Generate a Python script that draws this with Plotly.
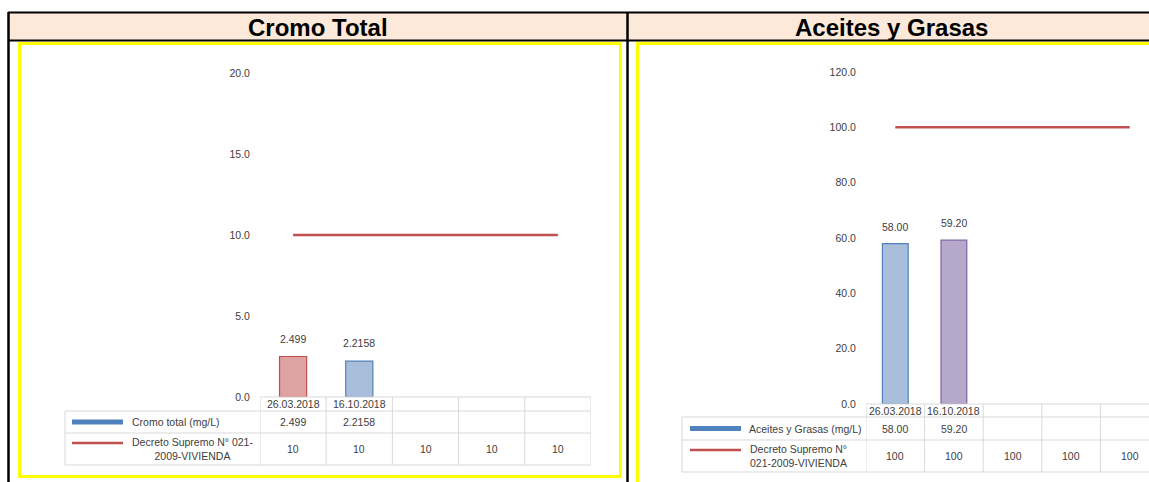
import plotly.graph_objects as go

# ---------------- data ----------------
dates = ["26.03.2018", "16.10.2018", "", "", ""]

cromo_values = [2.499, 2.2158]
cromo_labels = ["2.499", "2.2158"]
cromo_limit = [10, 10, 10, 10, 10]
cromo_yticks = [0, 5, 10, 15, 20]

aceites_values = [58.00, 59.20]
aceites_labels = ["58.00", "59.20"]
aceites_limit = [100, 100, 100, 100, 100]
aceites_yticks = [0, 20, 40, 60, 80, 100, 120]

titles = ["Cromo Total", "Aceites y Grasas"]
cromo_series = "Cromo total (mg/L)"
aceites_series = "Aceites y Grasas (mg/L)"
norm_left = "Decreto Supremo N° 021-<br>2009-VIVIENDA"
norm_right = "Decreto Supremo N°<br>021-2009-VIVIENDA"

# ---------------- layout helpers ----------------
W, H = 1149, 482
def px(x):
    return x / W
def py(y):
    return 1 - y / H

FONT = "Liberation Sans, Arial, sans-serif"
TXT = "#404040"
GRID = "#D9D9D9"
RED = "#C0504D"
BLUE_LINE = "#4F81BD"

panels = [
    dict(ax="x", ay="y", L=260, catw=66.2, base=397, top=73, ymax=20,
         ticks=cromo_yticks, values=cromo_values, labels=cromo_labels,
         limit=cromo_limit, series=cromo_series, norm=norm_left, norm_align="center",
         fills=["#DDA3A2", "#A9BEDB"], lines=[RED, BLUE_LINE], bw=0.41,
         rows=[397, 411, 433, 465], legL=65, keyx=(72, 123), textx=130, normx=192,
         vshift=18),
    dict(ax="x2", ay="y2", L=866, catw=58.6, base=404, top=72, ymax=120,
         ticks=aceites_yticks, values=aceites_values, labels=aceites_labels,
         limit=aceites_limit, series=aceites_series, norm=norm_right, norm_align="left",
         fills=["#A9BEDB", "#B6A8CA"], lines=[BLUE_LINE, "#8064A2"], bw=0.44,
         rows=[404, 417, 440, 472], legL=682, keyx=(690, 741), textx=747, normx=748,
         vshift=17),
]

fig = go.Figure()
shapes = []
annotations = []

def ann(**kw):
    base = dict(showarrow=False, xanchor="center", yanchor="middle")
    base.update(kw)
    annotations.append(base)

# outer table: header background and borders
shapes.append(dict(type="rect", xref="paper", yref="paper", x0=px(9), x1=1, y0=py(40), y1=py(13),
                   fillcolor="#FCE9DA", line_width=0, layer="below"))
for (x0, y0, x1, y1) in [(8, 12.5, W, 12.5), (8, 40.5, W, 40.5)]:
    shapes.append(dict(type="line", xref="paper", yref="paper", x0=px(x0), x1=px(x1),
                       y0=py(y0), y1=py(y1), line=dict(color="black", width=2)))
for xv in [8.5, 627.5]:
    shapes.append(dict(type="line", xref="paper", yref="paper", x0=px(xv), x1=px(xv),
                       y0=py(12), y1=0, line=dict(color="black", width=2.5)))
# yellow chart frames
shapes.append(dict(type="rect", xref="paper", yref="paper", x0=px(19.5), x1=px(620.5),
                   y0=py(476.5), y1=py(43.5), line=dict(color="#FFFF00", width=3)))
shapes.append(dict(type="rect", xref="paper", yref="paper", x0=px(637.5), x1=px(1170),
                   y0=py(500), y1=py(43.5), line=dict(color="#FFFF00", width=3)))

# titles
title_font = dict(family=FONT, size=24, color="black", weight="bold")
ann(text=titles[0], x=px(318), y=py(27.5), xref="paper", yref="paper", font=title_font)
ann(text=titles[1], x=px(891), y=py(27.5), xref="paper", yref="paper", font=title_font)

small = dict(family=FONT, size=10.5, color=TXT)

for i, p in enumerate(panels):
    n = len(dates)
    xa_name = "xaxis" if p["ax"] == "x" else "xaxis2"
    ya_name = "yaxis" if p["ay"] == "y" else "yaxis2"
    right_px = min(p["L"] + n * p["catw"], W)
    xmax = -0.5 + (right_px - p["L"]) / p["catw"]
    fig.update_layout(**{
        xa_name: dict(domain=[px(p["L"]), px(right_px)], range=[-0.5, xmax],
                      showticklabels=False, showgrid=False, zeroline=False,
                      showline=False, ticks="", anchor=p["ay"], fixedrange=True,
                      automargin=False),
        ya_name: dict(domain=[py(p["base"]), py(p["top"])], range=[0, p["ymax"]],
                      tickvals=p["ticks"], ticktext=[f"{t:.1f}" for t in p["ticks"]],
                      ticks="outside", ticklen=7, tickcolor="rgba(0,0,0,0)",
                      showgrid=False, zeroline=False, showline=False,
                      tickfont=small, anchor=p["ax"], fixedrange=True, automargin=False),
    })
    xs = list(range(len(p["values"])))
    fig.add_trace(go.Bar(x=xs, y=p["values"], width=p["bw"],
                         marker=dict(color=p["fills"], line=dict(color=p["lines"], width=1.2)),
                         xaxis=p["ax"], yaxis=p["ay"], showlegend=False, hoverinfo="skip"))
    fig.add_trace(go.Scatter(x=list(range(len(p["limit"]))), y=p["limit"], mode="lines",
                             line=dict(color=RED, width=2.5), xaxis=p["ax"], yaxis=p["ay"],
                             showlegend=False, hoverinfo="skip"))
    # value labels above bars
    for k, (v, t) in enumerate(zip(p["values"], p["labels"])):
        ann(text=t, x=k, y=v, xref=p["ax"], yref=p["ay"], yshift=p["vshift"], font=small)

    r0, r1, r2, r3 = p["rows"]
    # table grid
    shapes.append(dict(type="line", xref=p["ax"], yref="paper", x0=-0.5, x1=n - 0.5,
                       y0=py(r0), y1=py(r0), line=dict(color=GRID, width=1)))
    for ry in (r1, r2, r3):
        shapes.append(dict(type="line", xref=p["ax"], yref="paper", x0=-0.5, x1=n - 0.5,
                           y0=py(ry), y1=py(ry), line=dict(color=GRID, width=1)))
        shapes.append(dict(type="line", xref="paper", yref="paper", x0=px(p["legL"]), x1=px(p["L"]),
                           y0=py(ry), y1=py(ry), line=dict(color=GRID, width=1)))
    for b in range(n + 1):
        shapes.append(dict(type="line", xref=p["ax"], yref="paper", x0=b - 0.5, x1=b - 0.5,
                           y0=py(r0), y1=py(r3), line=dict(color=GRID, width=1)))
    shapes.append(dict(type="line", xref="paper", yref="paper", x0=px(p["legL"]), x1=px(p["legL"]),
                       y0=py(r1), y1=py(r3), line=dict(color=GRID, width=1)))

    # table text
    for k, d in enumerate(dates):
        if d:
            ann(text=d, x=k, y=py((r0 + r1) / 2), xref=p["ax"], yref="paper", font=small)
    for k, t in enumerate(p["labels"]):
        ann(text=t, x=k, y=py((r1 + r2) / 2), xref=p["ax"], yref="paper", font=small)
    for k, v in enumerate(p["limit"]):
        ann(text=str(v), x=k, y=py((r2 + r3) / 2), xref=p["ax"], yref="paper", font=small)

    # legend keys
    kx0, kx1 = p["keyx"]
    shapes.append(dict(type="line", xref="paper", yref="paper", x0=px(kx0), x1=px(kx1),
                       y0=py((r1 + r2) / 2), y1=py((r1 + r2) / 2), line=dict(color=BLUE_LINE, width=5)))
    shapes.append(dict(type="line", xref="paper", yref="paper", x0=px(kx0), x1=px(kx1),
                       y0=py((r2 + r3) / 2 - 6), y1=py((r2 + r3) / 2 - 6), line=dict(color=RED, width=2.5)))
    ann(text=p["series"], x=px(p["textx"]), y=py((r1 + r2) / 2), xref="paper", yref="paper",
        xanchor="left", font=small)
    ann(text=p["norm"], x=px(p["normx"]), y=py((r2 + r3) / 2), xref="paper", yref="paper",
        xanchor="center" if p["norm_align"] == "center" else "left",
        align=p["norm_align"], font=small)

fig.update_layout(width=W, height=H, margin=dict(l=0, r=0, t=0, b=0, pad=0, autoexpand=False),
                  paper_bgcolor="white", plot_bgcolor="rgba(0,0,0,0)",
                  shapes=shapes, annotations=annotations, showlegend=False,
                  font=dict(family=FONT))

fig.write_html("out.html", config={"displayModeBar": False, "staticPlot": True},
               post_script="document.body.style.margin='0px';")
